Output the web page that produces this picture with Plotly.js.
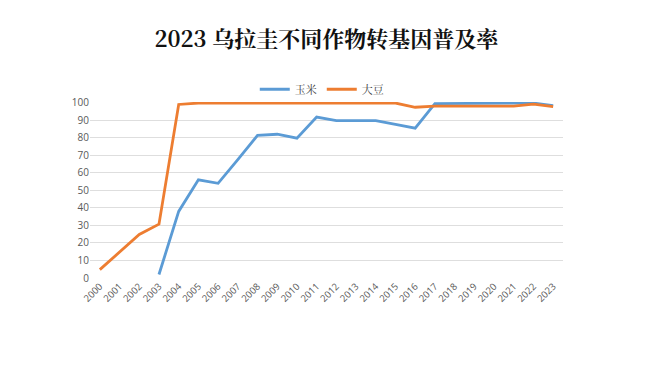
<!DOCTYPE html>
<html>
<head>
<meta charset="utf-8">
<script src="https://cdn.plot.ly/plotly-3.0.1.min.js"></script>
<style>html,body{margin:0;padding:0;background:#fff;}#chart{width:650px;height:365px;}</style>
</head>
<body>
<div id="chart"></div>
<script>
var years = ["2000","2001","2002","2003","2004","2005","2006","2007","2008","2009","2010","2011","2012","2013","2014","2015","2016","2017","2018","2019","2020","2021","2022","2023"];
var cornValues = [null,null,null,2,38,56,54,67.5,81.4,82,79.8,91.8,89.8,89.8,89.8,87.7,85.5,99.5,99.5,99.5,99.5,99.5,99.8,98.3];
var soyValues = [4.8,15,24.8,30.7,99,99.8,99.8,99.8,99.8,99.8,99.8,99.8,99.8,99.8,99.8,99.8,97.4,98,98,98,98,98,99.2,97.8];
var seriesNames = ["玉米","大豆"];
var titleText = "2023 乌拉圭不同作物转基因普及率";

var traces = [
  {x: years, y: cornValues, name: seriesNames[0], type: "scatter", mode: "lines",
   line: {color: "#5B9BD5", width: 2.8}, connectgaps: false},
  {x: years, y: soyValues, name: seriesNames[1], type: "scatter", mode: "lines",
   line: {color: "#ED7D31", width: 2.8}}
];

var layout = {
  width: 650, height: 365,
  paper_bgcolor: "#ffffff", plot_bgcolor: "#ffffff",
  margin: {l: 90, r: 87, t: 102, b: 87},
  title: {text: "<b>" + titleText + "</b>", x: 0.502, xanchor: "center", y: 0.893, yanchor: "middle",
          font: {family: "Noto Serif CJK SC, Noto Sans CJK SC, serif", size: 22, color: "#111111"}},
  showlegend: true,
  legend: {orientation: "h", x: 0.49, xanchor: "center", y: 0.99, yanchor: "bottom",
           font: {family: "Noto Serif CJK SC, Noto Sans CJK SC, serif", size: 11, color: "#404040"},
           bgcolor: "rgba(0,0,0,0)", itemwidth: 30},
  xaxis: {type: "category", range: [-0.5, 23.5], showgrid: false, zeroline: false,
          showline: false, ticks: "", tickangle: -45,
          tickfont: {family: "Open Sans, Noto Sans, sans-serif", size: 9.5, color: "#595959"}},
  yaxis: {range: [0, 100.4], dtick: 10, tick0: 0, showgrid: true, gridcolor: "#dedede", gridwidth: 1,
          zeroline: false, showline: false, ticks: "",
          tickfont: {family: "Open Sans, Noto Sans, sans-serif", size: 10, color: "#595959"}}
};

Plotly.newPlot("chart", traces, layout, {displayModeBar: false, staticPlot: true});
</script>
</body>
</html>
